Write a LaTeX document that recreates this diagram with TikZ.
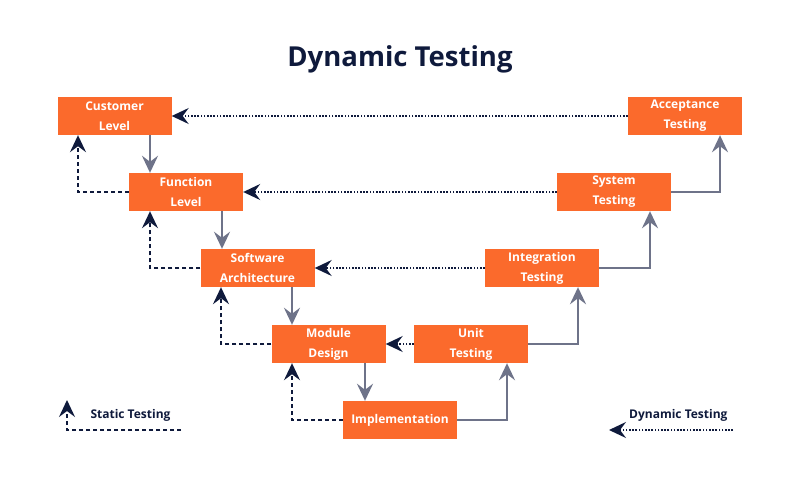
\documentclass[tikz,border=0pt]{standalone}
\usepackage{fontspec}
\setmainfont{Open Sans}
\usetikzlibrary{arrows.meta}
\definecolor{org}{HTML}{FB6A2C}
\definecolor{gry}{HTML}{6E7389}
\definecolor{navy}{HTML}{0F1A3C}
\begin{document}
\begin{tikzpicture}[x=1pt,y=-1pt,
  box/.style={fill=org,minimum width=114pt,minimum height=38pt,inner sep=0pt,text=white,font=\fontsize{12}{20}\selectfont\bfseries,align=center},
  flow/.style={gry,line width=2.2pt,-{Stealth[length=17pt,width=16pt,inset=6pt]}},
  stat/.style={navy,line width=1.6pt,dash pattern=on 4pt off 3pt,-{Stealth[length=17pt,width=16pt,inset=6pt]}},
  dyn/.style={navy,line width=1.6pt,dash pattern=on 1.6pt off 1.6pt,-{Stealth[length=17pt,width=16pt,inset=6pt]}},
  leg/.style={text=navy,font=\fontsize{12}{14}\selectfont\bfseries}]
\useasboundingbox (0,0) rectangle (800,500);
\fill[white] (0,0) rectangle (800,500);
\node[text=navy,font=\fontsize{27.5}{34}\selectfont\bfseries] (title) at (400,59) {Dynamic Testing};
\node[box] (cust) at (114.5,116) {Customer\\Level};
\node[box] (func) at (186,192) {Function\\Level};
\node[box] (soft) at (257.5,268) {Software\\Architecture};
\node[box] (mod) at (328.5,344) {Module\\Design};
\node[box] (impl) at (400,420) {Implementation};
\node[box] (unit) at (471,344) {Unit\\Testing};
\node[box] (integ) at (542,268) {Integration\\Testing};
\node[box] (sys) at (614,192) {System\\Testing};
\node[box] (acc) at (685,116) {Acceptance\\Testing};
% down flow
\draw[flow] (cust.south -| 150,0) -- (func.north -| 150,0);
\draw[flow] (func.south -| 222,0) -- (soft.north -| 222,0);
\draw[flow] (soft.south -| 292,0) -- (mod.north -| 292,0);
\draw[flow] (mod.south -| 365,0) -- (impl.north -| 365,0);
% up flow
\draw[flow] (impl.east) -| (unit.south -| 507,0);
\draw[flow] (unit.east) -| (integ.south -| 578,0);
\draw[flow] (integ.east) -| (sys.south -| 650,0);
\draw[flow] (sys.east) -| (acc.south -| 720,0);
% static
\draw[stat] (func.west) -| (cust.south -| 78,0);
\draw[stat] (soft.west) -| (func.south -| 150,0);
\draw[stat] (mod.west) -| (soft.south -| 221,0);
\draw[stat] (impl.west) -| (mod.south -| 292,0);
% dynamic
\draw[dyn] (acc.west) -- (cust.east);
\draw[dyn] (sys.west) -- (func.east);
\draw[dyn] (integ.west) -- (soft.east);
\draw[dyn] (unit.west) -- (mod.east);
% legend
\coordinate (s1) at (181,430);
\coordinate (s2) at (67,400);
\draw[stat] (s1) -| (s2);
\node[leg,anchor=west] (stxt) at (87,415) {Static Testing};
\coordinate (d1) at (733,430);
\coordinate (d2) at (609,430);
\draw[dyn] (d1) -- (d2);
\node[leg,anchor=east] (dtxt) at (731,415) {Dynamic Testing};
\end{tikzpicture}
\end{document}
